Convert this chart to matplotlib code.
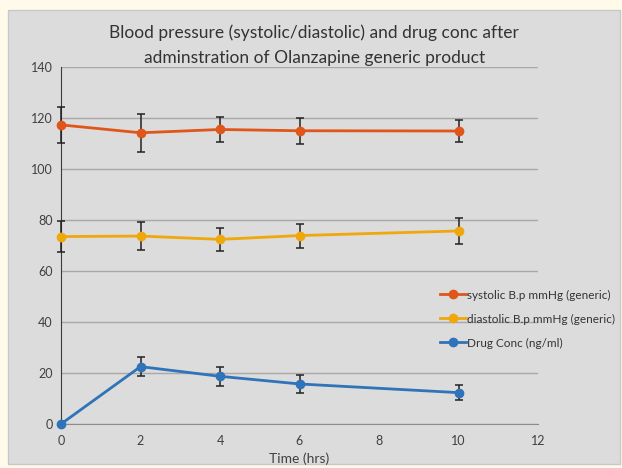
import numpy as np
import matplotlib.pyplot as plt
from matplotlib.patches import Rectangle

plt.rcParams['font.family'] = ['Lato', 'DejaVu Sans']

# time points (hrs)
time_hrs = [0, 2, 4, 6, 10]

# systolic blood pressure, mmHg
systolic = [117.3, 114.2, 115.5, 115.0, 114.9]
systolic_err = [7.0, 7.5, 5.0, 5.0, 4.5]

# diastolic blood pressure, mmHg
diastolic = [73.5, 73.7, 72.4, 73.9, 75.7]
diastolic_err = [6.0, 5.5, 4.5, 4.7, 5.0]

# drug concentration, ng/ml
drug_conc = [0.0, 22.5, 18.7, 15.7, 12.3]
drug_err = [0.0, 3.8, 3.7, 3.4, 2.8]

labels = ['systolic B.p mmHg (generic)',
          'diastolic B.p mmHg (generic)',
          'Drug Conc (ng/ml)']
colors = ['#E0561A', '#EFA80C', '#2F73B8']

fig = plt.figure(figsize=(6.22, 4.68), dpi=100)
fig.patch.set_facecolor('#FFFAE9')
# grey chart area like the excel frame
fig.patches.append(Rectangle((8 / 622, 4 / 468), 612 / 622, 454 / 468,
                             transform=fig.transFigure, facecolor='#DCDCDC',
                             edgecolor='#C8C8C8', lw=1, zorder=-10))

ax = fig.add_axes([61 / 622, 44 / 468, 477 / 622, 357 / 468])
ax.set_zorder(2)
ax.set_facecolor('#DCDCDC')

series = [(systolic, systolic_err), (diastolic, diastolic_err), (drug_conc, drug_err)]
handles = []
for (vals, errs), lab, col in zip(series, labels, colors):
    eb = ax.errorbar(time_hrs, vals, yerr=errs, fmt='none', ecolor='#222222',
                     elinewidth=1.1, capsize=3, capthick=1.1, zorder=3)
    for art in eb.lines[1] + eb.lines[2]:
        art.set_clip_on(False)
    h, = ax.plot(time_hrs, vals, color=col, lw=2, marker='o', ms=6,
                 label=lab, zorder=4, clip_on=False)
    handles.append(h)

ax.set_xlim(0, 12)
ax.set_ylim(0, 140)
ax.set_xticks(np.arange(0, 13, 2))
ax.set_yticks(np.arange(0, 141, 20))
ax.grid(axis='y', color='#A8A8A8', lw=1)
ax.set_axisbelow(True)
ax.tick_params(length=0, labelsize=9, colors='#404040', pad=6)
ax.tick_params(axis='x', pad=8)
for s in ['top', 'right']:
    ax.spines[s].set_visible(False)
ax.spines['left'].set_color('#3A3A3A')
ax.spines['bottom'].set_color('#8C8C8C')
ax.set_xlabel('Time (hrs)', fontsize=10, color='#404040', labelpad=4)

fig.text(0.505, 0.903, 'Blood pressure (systolic/diastolic) and drug conc after\n'
         'adminstration of Olanzapine generic product',
         ha='center', va='center', fontsize=12.5, color='#333333', linespacing=1.65)

ax.legend(handles=handles, loc='upper left', bbox_to_anchor=(0.785, 0.39),
          frameon=False, fontsize=8.5, labelcolor='#333333', handlelength=2.2,
          handletextpad=0.1, labelspacing=1.1, borderaxespad=0)

fig.savefig('out.png', dpi=100, facecolor=fig.get_facecolor())
